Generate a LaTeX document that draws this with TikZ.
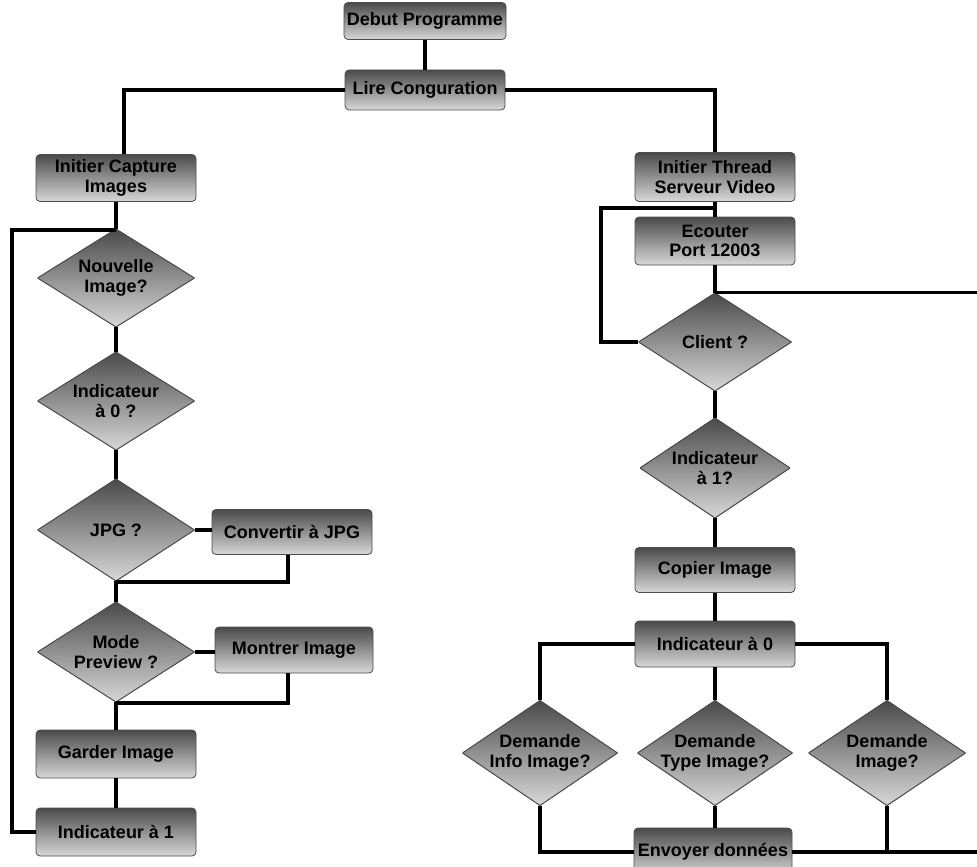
\documentclass[tikz,border=0pt]{standalone}
\usepackage{fontspec}
\setmainfont{Liberation Sans}
\definecolor{boxtop}{HTML}{4A4A4A}
\definecolor{boxmid}{HTML}{959595}
\definecolor{boxbot}{HTML}{D8D8D8}
\begin{document}
\begin{tikzpicture}[x=1pt,y=-1pt,
  every node/.style={font=\fontsize{18}{19.5}\selectfont\bfseries, align=center, inner sep=0pt, text=black},
  proc/.style={rectangle, rounded corners=4pt, draw=black!70, line width=0.8pt,
    top color=boxtop, middle color=boxmid, bottom color=boxbot,
    minimum width=160pt, minimum height=47pt},
  decision/.style={rectangle, minimum width=157pt, minimum height=100pt,
    path picture={
      \fill[top color=boxtop, middle color=boxmid, bottom color=boxbot]
        (path picture bounding box.north) -- (path picture bounding box.east)
        -- (path picture bounding box.south) -- (path picture bounding box.west) -- cycle;
      \draw[black!70, line width=1pt]
        (path picture bounding box.north) -- (path picture bounding box.east)
        -- (path picture bounding box.south) -- (path picture bounding box.west) -- cycle;}},
  link/.style={draw=black, line width=3.2pt, line join=miter}]

\useasboundingbox (0,0) rectangle (977,867);

% start
\node[proc, minimum width=162pt, minimum height=37pt] (debut) at (425,21) {Debut Programme};
\node[proc, minimum height=40pt] (lire) at (425,90) {Lire Conguration};

% capture branch
\node[proc] (capt) at (116,178) {Initier Capture\\Images};
\node[decision, minimum height=98pt] (nouv) at (116,278) {Nouvelle\\Image?};
\node[decision, minimum height=98pt] (ind0q) at (116,401) {Indicateur\\à 0 ?};
\node[decision, minimum height=102pt] (jpg) at (116,530) {JPG ?};
\node[proc, minimum height=45pt] (conv) at (292,532) {Convertir à JPG};
\node[decision] (mode) at (116,652) {Mode\\Preview ?};
\node[proc, minimum width=158pt, minimum height=46pt] (mont) at (294,650) {Montrer Image};
\node[proc, minimum height=48pt] (gard) at (116,754) {Garder Image};
\node[proc, minimum height=48pt] (ind1) at (116,832) {Indicateur à 1};

\coordinate (jL) at (116,230);
\coordinate (loopL) at (12,230);
\coordinate (j1) at (116,582);
\coordinate (j2) at (116,703);

% server branch
\node[proc, minimum height=49pt] (thr) at (715,177) {Initier Thread\\Serveur Video};
\node[proc, minimum height=48pt] (ecou) at (715,241) {Ecouter\\Port 12003};
\node[decision, minimum width=153pt, minimum height=98pt] (client) at (715,342) {Client ?};
\node[decision, minimum width=150pt] (ind1q) at (715,468) {Indicateur\\à 1?};
\node[proc, minimum height=45pt] (copier) at (715,570) {Copier Image};
\node[proc, minimum height=46pt] (ind0) at (715,644) {Indicateur à 0};
\node[decision, minimum width=155pt, minimum height=105pt] (dinfo) at (540,753) {Demande\\Info Image?};
\node[decision, minimum width=155pt, minimum height=105pt] (dtype) at (715,753) {Demande\\Type Image?};
\node[decision, minimum width=157pt, minimum height=105pt] (dimg) at (887,753) {Demande\\Image?};
\node[proc, minimum width=158pt, minimum height=48pt] (envoy) at (713,852) {Envoyer données};

\coordinate (jR) at (715,208);
\coordinate (loopR) at (601,208);
\coordinate (edge) at (977,0);

% connectors: start
\draw[link] (debut.south) -- (lire.north);
\draw[link] (lire.west) -| ([xshift=8pt]capt.north);
\draw[link] (lire.east) -| (thr.north);

% connectors: capture branch
\draw[link] (capt.south) -- (nouv.north);
\draw[link] (ind1.west) -| (loopL) -- (jL);
\draw[link] (nouv.south) -- (ind0q.north);
\draw[link] (ind0q.south) -- (jpg.north);
\draw[link] (jpg.east) -- (conv.west |- jpg.east);
\draw[link] ([xshift=-4pt]conv.south) |- (j1);
\draw[link] (jpg.south) -- (mode.north);
\draw[link] (mode.east) -- (mont.west |- mode.east);
\draw[link] ([xshift=-6pt]mont.south) |- (j2);
\draw[link] (mode.south) -- (gard.north);
\draw[link] (gard.south) -- (ind1.north);

% connectors: server branch
\draw[link] (thr.south) -- (ecou.north);
\draw[link] (client.west) -| (loopR) -- (jR);
\draw[link] (ecou.south) -- (client.north);
\draw[link] (client.north) -- (client.north -| edge);
\draw[link] (client.south) -- (ind1q.north);
\draw[link] (ind1q.south) -- (copier.north);
\draw[link] (copier.south) -- (ind0.north);
\draw[link] (ind0.west) -| (dinfo.north);
\draw[link] (ind0.east) -| (dimg.north);
\draw[link] (ind0.south) -- (dtype.north);
\draw[link] (dinfo.south) |- (envoy.west);
\draw[link] (dtype.south) -- (dtype.south |- envoy.north);
\draw[link] (envoy.east) -- (envoy.east -| edge);
\draw[link] (dimg.south) -- (dimg.south |- envoy.east);
\end{tikzpicture}
\end{document}
